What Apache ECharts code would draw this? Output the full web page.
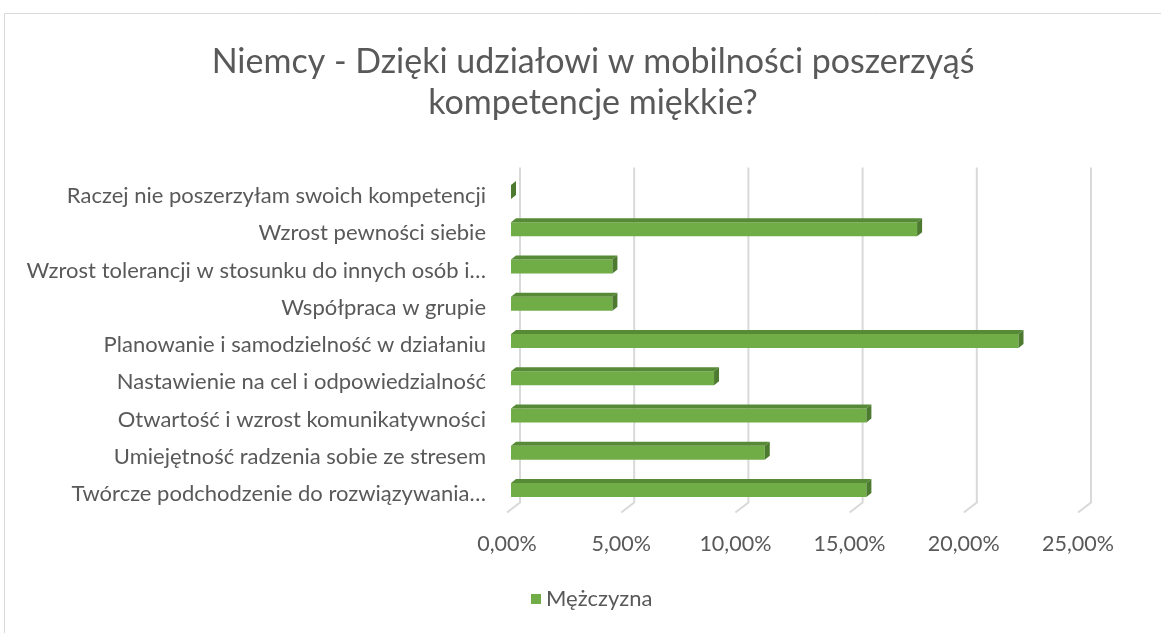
<!DOCTYPE html>
<html>
<head>
<meta charset="utf-8">
<script src="https://cdn.jsdelivr.net/npm/echarts@6/dist/echarts.min.js"></script>
<style>
  html, body { margin: 0; padding: 0; background: #fff; }
  #chart { width: 1161px; height: 633px; }
</style>
</head>
<body>
<div id="chart"></div>
<script>
// Categories, top to bottom
const categories = [
  'Raczej nie poszerzyłam swoich kompetencji',
  'Wzrost pewności siebie',
  'Wzrost tolerancji w stosunku do innych osób i…',
  'Współpraca w grupie',
  'Planowanie i samodzielność w działaniu',
  'Nastawienie na cel i odpowiedzialność',
  'Otwartość i wzrost komunikatywności',
  'Umiejętność radzenia sobie ze stresem',
  'Twórcze podchodzenie do rozwiązywania…'
];
// Share of answers, percent
const values = [0, 17.78, 4.44, 4.44, 22.22, 8.89, 15.56, 11.11, 15.56];
const seriesName = 'Mężczyzna';
const xTicks = [0, 5, 10, 15, 20, 25];
const titleLines = ['Niemcy - Dzięki udziałowi w mobilności poszerzyąś', 'kompetencje miękkie?'];

const FONT = 'Lato, "Open Sans", sans-serif';
const TEXT = '#595959';
const GREEN = '#70AD47';
const GREEN_TOP = '#578A36';
const GREEN_SIDE = '#4C7A2F';

// 3D offsets: back wall from front floor, bar front plane, bar depth
const WALL_DX = 13, WALL_DY = -10;
const BAR_DX = 4, BAR_DY = -4;
const DEPTH_X = 5, DEPTH_Y = -4;
const BAR_H = 14;

const chart = echarts.init(document.getElementById('chart'), null, { renderer: 'canvas' });

function fmtPct(v) { return v.toFixed(2).replace('.', ',') + '%'; }

const option = {
  backgroundColor: '#fff',
  animation: false,
  title: {
    text: titleLines.join('\n'),
    left: 588,
    textAlign: 'center',
    top: 37,
    textStyle: { fontFamily: FONT, fontSize: 34, fontWeight: 'normal', color: TEXT, lineHeight: 41 }
  },
  legend: {
    bottom: 18,
    left: 526,
    icon: 'rect',
    itemWidth: 10,
    itemHeight: 10,
    itemGap: 8,
    textStyle: { fontFamily: FONT, fontSize: 22, color: TEXT },
    data: [{ name: seriesName, itemStyle: { color: GREEN } }]
  },
  grid: { left: 507, width: 571, top: 177.5, height: 335 },
  xAxis: {
    type: 'value', min: 0, max: 25, interval: 5,
    axisLine: { show: false }, axisTick: { show: false }, splitLine: { show: false },
    axisLabel: { margin: 21, fontFamily: FONT, fontSize: 21.5, color: TEXT, formatter: fmtPct }
  },
  yAxis: {
    type: 'category', data: categories, inverse: true,
    axisLine: { show: false }, axisTick: { show: false },
    axisLabel: { margin: 21, fontFamily: FONT, fontSize: 22, color: TEXT }
  },
  graphic: [{
    type: 'rect', silent: true,
    shape: { x: 4.5, y: 13.5, width: 1300, height: 800 },
    style: { fill: 'none', stroke: '#D9D9D9', lineWidth: 1 }
  }],
  series: [
    {
      // back-wall grid lines with their floor edge
      type: 'custom',
      silent: true,
      z: 1,
      encode: { x: 0, y: 1 },
      data: xTicks.map(v => [v, 0]),
      renderItem: function (params, api) {
        const cs = params.coordSys;
        const px = api.coord([api.value(0), 0])[0];
        const top = cs.y, bottom = cs.y + cs.height;
        return {
          type: 'polyline',
          shape: { points: [[px + WALL_DX, top + WALL_DY], [px + WALL_DX, bottom + WALL_DY], [px, bottom]] },
          style: { stroke: '#D9D9D9', lineWidth: 2, fill: 'none' }
        };
      }
    },
    {
      name: seriesName,
      type: 'custom',
      z: 2,
      itemStyle: { color: GREEN },
      encode: { x: 0, y: 1 },
      data: values.map((v, i) => [v, i]),
      renderItem: function (params, api) {
        const v = api.value(0), c = api.value(1);
        const p0 = api.coord([0, c]);
        const p1 = api.coord([v, c]);
        const x = p0[0] + BAR_DX;
        const y = p0[1] + BAR_DY - BAR_H / 2;
        const w = p1[0] - p0[0];
        const children = [];
        if (w > 0) {
          children.push({ type: 'rect', shape: { x: x, y: y, width: w, height: BAR_H }, style: { fill: GREEN } });
          children.push({ type: 'polygon', shape: { points: [[x, y], [x + DEPTH_X, y + DEPTH_Y], [x + w + DEPTH_X, y + DEPTH_Y], [x + w, y]] }, style: { fill: GREEN_TOP } });
        }
        children.push({ type: 'polygon', shape: { points: [[x + w, y], [x + w + DEPTH_X, y + DEPTH_Y], [x + w + DEPTH_X, y + BAR_H + DEPTH_Y], [x + w, y + BAR_H]] }, style: { fill: GREEN_SIDE } });
        return { type: 'group', children: children };
      }
    }
  ]
};

chart.setOption(option);
</script>
</body>
</html>
